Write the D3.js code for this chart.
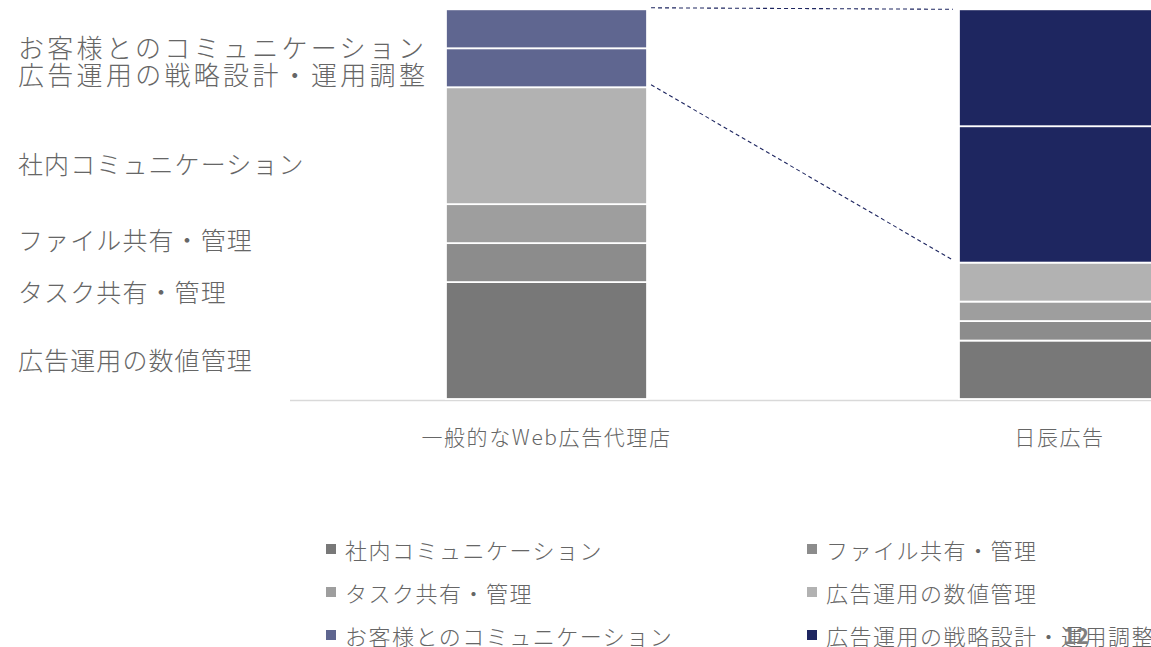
<!DOCTYPE html>
<html>
<head>
<meta charset="utf-8">
<script src="https://cdn.jsdelivr.net/npm/d3@7"></script>
<style>
  html, body { margin: 0; padding: 0; background: #ffffff; }
  svg { display: block; font-family: "Noto Sans CJK JP", "Noto Sans", sans-serif; }
</style>
</head>
<body>
<svg id="chart" width="1151" height="647"></svg>
<script>
// ---- data ----
const categories = ["一般的なWeb広告代理店", "日辰広告"];
const seriesNames = [
  "社内コミュニケーション",
  "ファイル共有・管理",
  "タスク共有・管理",
  "広告運用の数値管理",
  "お客様とのコミュニケーション",
  "広告運用の戦略設計・運用調整"
];
const valuesGeneral = [30, 10, 10, 30, 10, 10];
const valuesNisshin = [15, 5, 5, 10, 35, 30];
const sideLabels = [
  "お客様とのコミュニケーション",
  "広告運用の戦略設計・運用調整",
  "社内コミュニケーション",
  "ファイル共有・管理",
  "タスク共有・管理",
  "広告運用の数値管理"
];
const pageNumber = "12";

// ---- styles ----
const seriesColors = ["#787878", "#8c8c8c", "#9e9e9e", "#b2b2b2", "#5f6690", "#1e2660"];
const barHighlight = ["#5f6690", "#1e2660"]; // colour of the top two segments per bar
const textColor = "#666666";

// ---- build table ----
const table = categories.map((c, i) => {
  const row = { category: c };
  const vals = i === 0 ? valuesGeneral : valuesNisshin;
  seriesNames.forEach((s, j) => row[s] = vals[j]);
  return row;
});
const stacked = d3.stack().keys(seriesNames)(table);

const svg = d3.select("#chart");

const x = d3.scaleBand()
  .domain(categories)
  .range([290, 1316])
  .paddingInner(0.608)
  .paddingOuter(0.304);
const y = d3.scaleLinear().domain([0, 100]).range([399, 9.3]);

// axis baseline
svg.append("line")
  .attr("x1", 290).attr("x2", 1151)
  .attr("y1", y(0) + 1.5).attr("y2", y(0) + 1.5)
  .attr("stroke", "#d9d9d9").attr("stroke-width", 1.6);

// bars
const groups = svg.append("g").selectAll("g")
  .data(stacked).join("g");
groups.selectAll("rect")
  .data((d, si) => d.map((p, ci) => ({ p, si, ci })))
  .join("rect")
  .attr("x", d => x(d.p.data.category))
  .attr("width", x.bandwidth())
  .attr("y", d => y(d.p[1]))
  .attr("height", d => y(d.p[0]) - y(d.p[1]))
  .attr("fill", d => d.si >= 4 ? barHighlight[d.ci] : seriesColors[d.si])
  .attr("stroke", "#ffffff")
  .attr("stroke-width", 1.8);

// dashed connector lines
const s5 = stacked[4];
const xl = x(categories[0]) + x.bandwidth() + 4;
const xr = x(categories[1]) - 6;
svg.append("line")
  .attr("x1", xl).attr("y1", y(100) - 1.5)
  .attr("x2", xr).attr("y2", y(100))
  .attr("stroke", "#1e2660").attr("stroke-width", 1.1)
  .attr("stroke-dasharray", "4,3");
svg.append("line")
  .attr("x1", xl).attr("y1", y(s5[0][0]) - 2.5)
  .attr("x2", xr).attr("y2", y(s5[1][0]) - 2.5)
  .attr("stroke", "#1e2660").attr("stroke-width", 1.1)
  .attr("stroke-dasharray", "4,3");

// category labels
svg.append("g").selectAll("text")
  .data(categories).join("text")
  .attr("x", d => x(d) + x.bandwidth() / 2)
  .attr("y", 445)
  .attr("text-anchor", "middle")
  .attr("font-size", 21)
  .attr("font-weight", 300)
  .attr("letter-spacing", 1.6)
  .attr("fill", textColor)
  .text(d => d);

// side annotation labels
const sideY = [46, 73, 163, 239, 291, 359];
svg.append("g").selectAll("text")
  .data(sideLabels).join("text")
  .attr("x", 18)
  .attr("y", (d, i) => sideY[i])
  .attr("dominant-baseline", "central")
  .attr("font-size", (d, i) => i < 2 ? 26 : 25)
  .attr("font-weight", 300)
  .attr("letter-spacing", (d, i) => i < 2 ? 3.3 : 1.1)
  .attr("fill", textColor)
  .text(d => d);

// legend
const legend = svg.append("g").selectAll("g")
  .data(seriesNames).join("g")
  .attr("transform", (d, i) => `translate(${326 + (i % 2) * 481},${549 + Math.floor(i / 2) * 43})`);
legend.append("rect")
  .attr("x", 0).attr("y", -5).attr("width", 10).attr("height", 10)
  .attr("fill", (d, i) => seriesColors[i]);
legend.append("text")
  .attr("x", 19).attr("y", 0)
  .attr("dominant-baseline", "central")
  .attr("font-size", 22)
  .attr("font-weight", 300)
  .attr("letter-spacing", 1.5)
  .attr("fill", textColor)
  .text(d => d);

// page number
svg.append("text")
  .attr("x", 1076).attr("y", 634)
  .attr("text-anchor", "middle")
  .attr("dominant-baseline", "central")
  .attr("font-size", 22)
  .attr("font-weight", 700)
  .attr("fill", "#7f7f7f")
  .text(pageNumber);
</script>
</body>
</html>
